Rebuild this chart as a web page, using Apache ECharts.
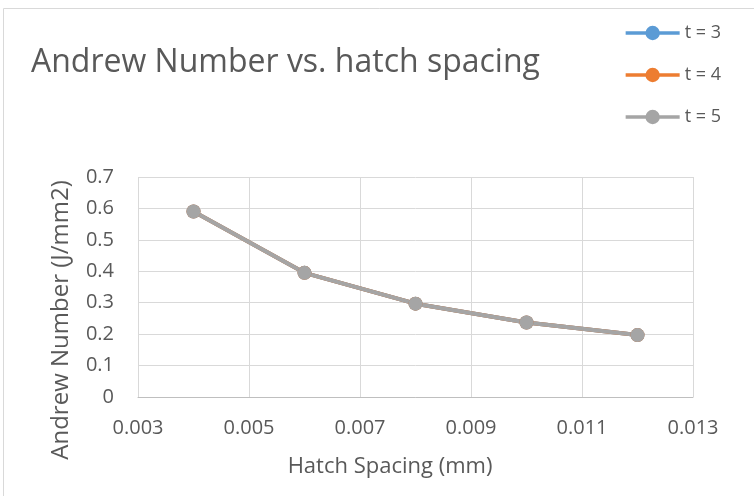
<!DOCTYPE html>
<html><head><meta charset="utf-8">
<script src="https://cdn.jsdelivr.net/npm/echarts@6/dist/echarts.min.js"></script>
<style>html,body{margin:0;padding:0;background:#fff}#c{width:754px;height:496px}</style>
</head><body><div id="c"></div>
<script>
const hatchSpacing = [0.004, 0.006, 0.008, 0.010, 0.012];
const t3 = [0.59, 0.395, 0.297, 0.237, 0.197];
const t4 = [0.59, 0.395, 0.297, 0.237, 0.197];
const t5 = [0.59, 0.395, 0.297, 0.237, 0.197];
const seriesNames = ['t = 3', 't = 4', 't = 5'];
const colors = ['#5B9BD5', '#ED7D31', '#A5A5A5'];
const FONT = '"Open Sans", "Noto Sans", sans-serif';
const TXT = '#595959';

const chart = echarts.init(document.getElementById('c'));
const pairs = arr => hatchSpacing.map((x, i) => [x, arr[i]]);
const allData = [t3, t4, t5];
chart.setOption({
  animation: false,
  color: colors,
  title: {
    text: 'Andrew Number vs. hatch spacing',
    left: 26, top: 42,
    textStyle: {fontFamily: FONT, fontSize: 32, fontWeight: 'normal', color: TXT}
  },
  legend: {
    orient: 'vertical', right: 28, top: 19, itemGap: 24,
    itemWidth: 54, itemHeight: 18,
    lineStyle: {width: 3.5},
    textStyle: {fontFamily: FONT, fontSize: 18, color: TXT},
    data: seriesNames
  },
  grid: {left: 138, right: 61, top: 177, bottom: 99},
  xAxis: {
    type: 'value', min: 0.003, max: 0.013, interval: 0.002,
    axisLine: {show: true, lineStyle: {color: '#BFBFBF'}},
    axisTick: {show: false},
    splitLine: {show: true, lineStyle: {color: '#D9D9D9', width: 1}},
    axisLabel: {fontFamily: FONT, fontSize: 20, color: TXT, margin: 21,
      formatter: v => v.toFixed(3)}
  },
  yAxis: {
    type: 'value', min: 0, max: 0.7, interval: 0.1,
    axisLine: {show: false}, axisTick: {show: false},
    splitLine: {lineStyle: {color: '#D9D9D9', width: 1}},
    axisLabel: {fontFamily: FONT, fontSize: 20, color: TXT, margin: 24,
      formatter: v => (Math.round(v * 10) / 10).toString()}
  },
  graphic: [
    {type: 'rect', shape: {x: 3.5, y: 8.5, width: 800, height: 600},
      style: {fill: 'none', stroke: '#D9D9D9', lineWidth: 1}, silent: true, z: -1},
    {type: 'text', x: 61, y: 320, rotation: Math.PI / 2,
      style: {text: 'Andrew Number (J/mm2)', fontFamily: FONT, fontSize: 24, fill: TXT,
        align: 'center', verticalAlign: 'middle'}},
    {type: 'text', x: 390, y: 467,
      style: {text: 'Hatch Spacing (mm)', fontFamily: FONT, fontSize: 22, fill: TXT,
        align: 'center', verticalAlign: 'middle'}}
  ],
  series: seriesNames.map((n, i) => ({
    name: n, type: 'line', data: pairs(allData[i]),
    symbol: 'circle', symbolSize: 14,
    lineStyle: {width: 4, color: colors[i]},
    itemStyle: {color: colors[i]}
  }))
});
</script></body></html>
